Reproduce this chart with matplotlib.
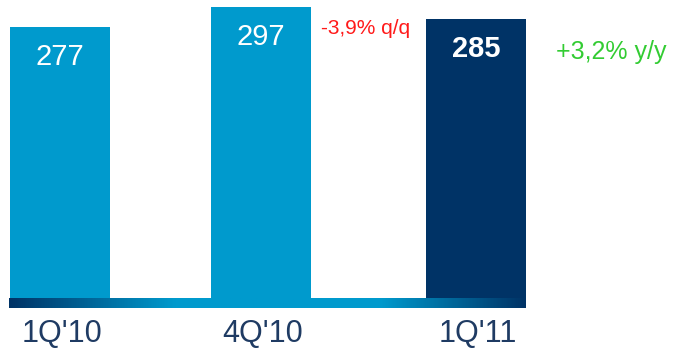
import numpy as np
import matplotlib.pyplot as plt
from matplotlib.colors import LinearSegmentedColormap

# quarterly values
quarters = ["1Q'10", "4Q'10", "1Q'11"]
values = [277, 297, 285]
changes = ["-3,9% q/q", "+3,2% y/y"]

LIGHT = "#009ACD"
NAVY = "#003366"
LABEL_NAVY = "#1F3B63"

plt.rcParams["font.family"] = ["Liberation Sans", "DejaVu Sans"]

W, H = 675, 350
fig = plt.figure(figsize=(W / 100, H / 100), dpi=100)

# axes spans the full width so x is in pixel units; y=0 sits on the baseline
base_px = 298
ax = fig.add_axes([0, (H - base_px) / H, 1, base_px / H])
ax.set_xlim(0, W)
ax.set_ylim(0, base_px / 0.979)
ax.axis("off")

bar_x = [60, 261, 476]
colors = [LIGHT, LIGHT, NAVY]
ax.bar(bar_x, values, width=100, color=colors, edgecolor="none")

for x, v, c in zip(bar_x, values, colors):
    bold = c == NAVY
    ax.annotate(str(v), (x, v), xytext=(0, -30), textcoords="offset pixels",
                ha="center", va="center", color="white", fontsize=21,
                fontweight="bold" if bold else "normal")

# change annotations
ax.text(321, (base_px - 28) / 0.979, changes[0], color="#FF1A1A",
        fontsize=15, ha="left", va="center")
ax.text(556, (base_px - 52) / 0.979, changes[1], color="#33CC33",
        fontsize=18, ha="left", va="center")

# gradient baseline strip under the bars
cmap = LinearSegmentedColormap.from_list(
    "strip", [(0, NAVY), (0.32, LIGHT), (0.72, LIGHT), (1, NAVY)])
strip = fig.add_axes([9 / W, (H - 308) / H, (526 - 9) / W, 10 / H])
strip.imshow(np.linspace(0, 1, 256)[None, :], cmap=cmap, aspect="auto")
strip.axis("off")

# category labels
for x, q in zip(bar_x, quarters):
    fig.text((x + 2) / W, (H - 334) / H, q, color=LABEL_NAVY, fontsize=22,
             ha="center", va="center")

fig.savefig("out.png", dpi=100)
